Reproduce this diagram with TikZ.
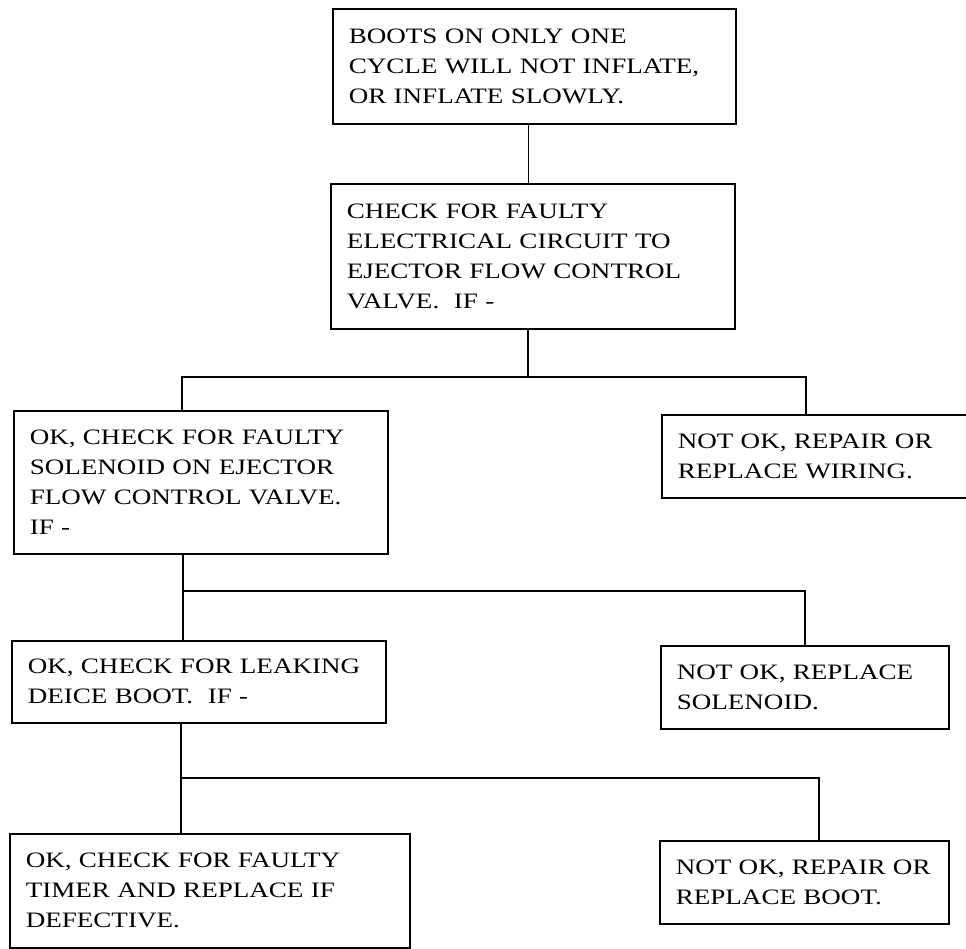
\documentclass[tikz,border=0pt]{standalone}
\usepackage{fontspec}
\setmainfont[FakeStretch=1.23]{Liberation Serif}
\usepackage{tikz}

\begin{document}
\begin{tikzpicture}[x=1pt,y=-1pt,line width=1.6pt,
    box/.style={rectangle, draw, anchor=north west, align=left,
    inner xsep=16pt, inner ysep=0pt,
    font=\fontsize{22}{30}\selectfont}]
    \useasboundingbox (0,0) rectangle (966,949);
    \node[box, text width=371pt, minimum height=115pt] (a) at (332,8)
        {BOOTS ON ONLY ONE\\CYCLE WILL NOT INFLATE,\\OR INFLATE SLOWLY.};
    \node[box, text width=372pt, minimum height=145pt] (b) at (330,183)
        {CHECK FOR FAULTY\\ELECTRICAL CIRCUIT TO\\EJECTOR FLOW CONTROL\\VALVE.\ \ IF -};
    \node[box, text width=342pt, minimum height=143pt] (c) at (13,410)
        {OK, CHECK FOR FAULTY\\SOLENOID ON EJECTOR\\FLOW CONTROL VALVE.\\IF -};
    \node[box, text width=287pt, minimum height=83pt] (d) at (661,414)
        {NOT OK, REPAIR OR\\REPLACE WIRING.};
    \node[box, text width=342pt, minimum height=82pt] (e) at (11,640)
        {OK, CHECK FOR LEAKING\\DEICE BOOT.\ \ IF -};
    \node[box, text width=256pt, minimum height=83pt] (f) at (660,645)
        {NOT OK, REPLACE\\SOLENOID.};
    \node[box, text width=368pt, minimum height=114pt] (g) at (9,833)
        {OK, CHECK FOR FAULTY\\TIMER AND REPLACE IF\\DEFECTIVE.};
    \node[box, text width=257pt, minimum height=83pt] (h) at (659,840)
        {NOT OK, REPAIR OR\\REPLACE BOOT.};
    % branch points
    \coordinate (p1) at (182,377);
    \coordinate (p2) at (806,377);
    \coordinate (q1) at (183,591);
    \coordinate (q2) at (805,591);
    \coordinate (r1) at (181,778);
    \coordinate (r2) at (819,778);
    \draw ([xshift=-6pt]a.south) -- ([xshift=-6pt]a.south |- b.north);
    \draw ([xshift=-5pt]b.south) -- ([xshift=-5pt]b.south |- p1);
    \draw (c.north -| p1) -- (p1) -- (p2) -- (d.north -| p2);
    \draw (c.south -| q1) -- (e.north -| q1);
    \draw (q1) -- (q2) -- (f.north -| q2);
    \draw (e.south -| r1) -- (g.north -| r1);
    \draw (r1) -- (r2) -- (h.north -| r2);
\end{tikzpicture}
\end{document}
